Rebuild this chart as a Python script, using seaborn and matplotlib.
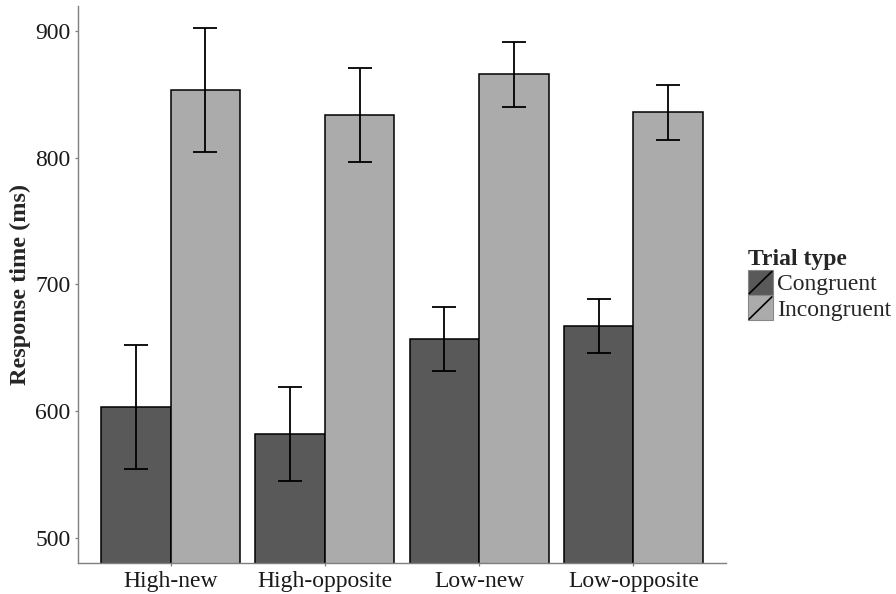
import matplotlib
matplotlib.use("Agg")
import matplotlib.pyplot as plt
import seaborn as sns
import pandas as pd
from matplotlib.patches import Rectangle
from matplotlib.lines import Line2D
from matplotlib.legend_handler import HandlerBase

conditions = ["High-new", "High-opposite", "Low-new", "Low-opposite"]
trial_types = ["Congruent", "Incongruent"]
congruent_rt = [603, 582, 657, 667]
incongruent_rt = [854, 834, 866, 836]
congruent_se = [49, 37, 25.5, 21.5]
incongruent_se = [49, 37, 25.5, 21.5]
colors = ["#595959", "#ABABAB"]

df = pd.DataFrame({
    "Condition": conditions * 2,
    "Trial type": ["Congruent"] * 4 + ["Incongruent"] * 4,
    "RT": congruent_rt + incongruent_rt,
    "SE": congruent_se + incongruent_se,
})

sns.set_theme(style="white")
plt.rcParams["font.family"] = ["Liberation Serif", "DejaVu Serif"]

fig = plt.figure(figsize=(8.96, 5.94), dpi=100)
ax = fig.add_axes([78/896, 1-563/594, (726-78)/896, (563-6)/594])

sns.barplot(data=df, x="Condition", y="RT", hue="Trial type", order=conditions,
            hue_order=trial_types, palette=colors, width=0.9, errorbar=None,
            edgecolor="black", linewidth=1.1, ax=ax, saturation=1, legend=False)

# error bars at bar centres
for container, tt in zip(ax.containers, trial_types):
    sub = df[df["Trial type"] == tt].set_index("Condition").loc[conditions]
    xs = [p.get_x() + p.get_width() / 2 for p in container.patches]
    ax.errorbar(xs, sub["RT"].values, yerr=sub["SE"].values, fmt="none",
                ecolor="black", elinewidth=1.3, capsize=8.3, capthick=1.3, zorder=5)

ax.set_xlim(-0.6, 3.6)
ax.set_ylim(480, 920)
ax.set_yticks([500, 600, 700, 800, 900])
ax.set_xlabel("")
ax.set_ylabel("Response time (ms)", fontsize=17.5, fontweight="bold", labelpad=3)
ax.tick_params(axis="both", which="both", length=2.5, width=0.9, color="#7f7f7f",
               labelsize=17, labelcolor="#1a1a1a", bottom=True, left=True, pad=3)
for s in ["top", "right"]:
    ax.spines[s].set_visible(False)
for s in ["left", "bottom"]:
    ax.spines[s].set_color("#7f7f7f")
    ax.spines[s].set_linewidth(1.0)


class SlashHandler(HandlerBase):
    def create_artists(self, legend, orig_handle, xdescent, ydescent, width,
                       height, fontsize, trans):
        r = Rectangle((-xdescent, -ydescent), width, height,
                      facecolor=orig_handle.get_facecolor(),
                      edgecolor="#888888", linewidth=0.8, transform=trans)
        l = Line2D([-xdescent + 1, -xdescent + width - 1],
                   [-ydescent + 1, -ydescent + height - 1],
                   color="black", linewidth=1.2, transform=trans)
        return [r, l]


handles = [Rectangle((0, 0), 1, 1, facecolor=c) for c in colors]
leg = fig.legend(handles, trial_types, title="Trial type",
                 handler_map={Rectangle: SlashHandler()},
                 loc="center left", bbox_to_anchor=(743/896, 1-285/594),
                 frameon=False, fontsize=17, title_fontproperties={"weight": "bold", "size": 17},
                 handlelength=1.08, handleheight=1.25, handletextpad=0.15,
                 labelspacing=0.0, borderpad=0.2, borderaxespad=0.0, alignment="left")

fig.savefig("out.png", dpi=100)
